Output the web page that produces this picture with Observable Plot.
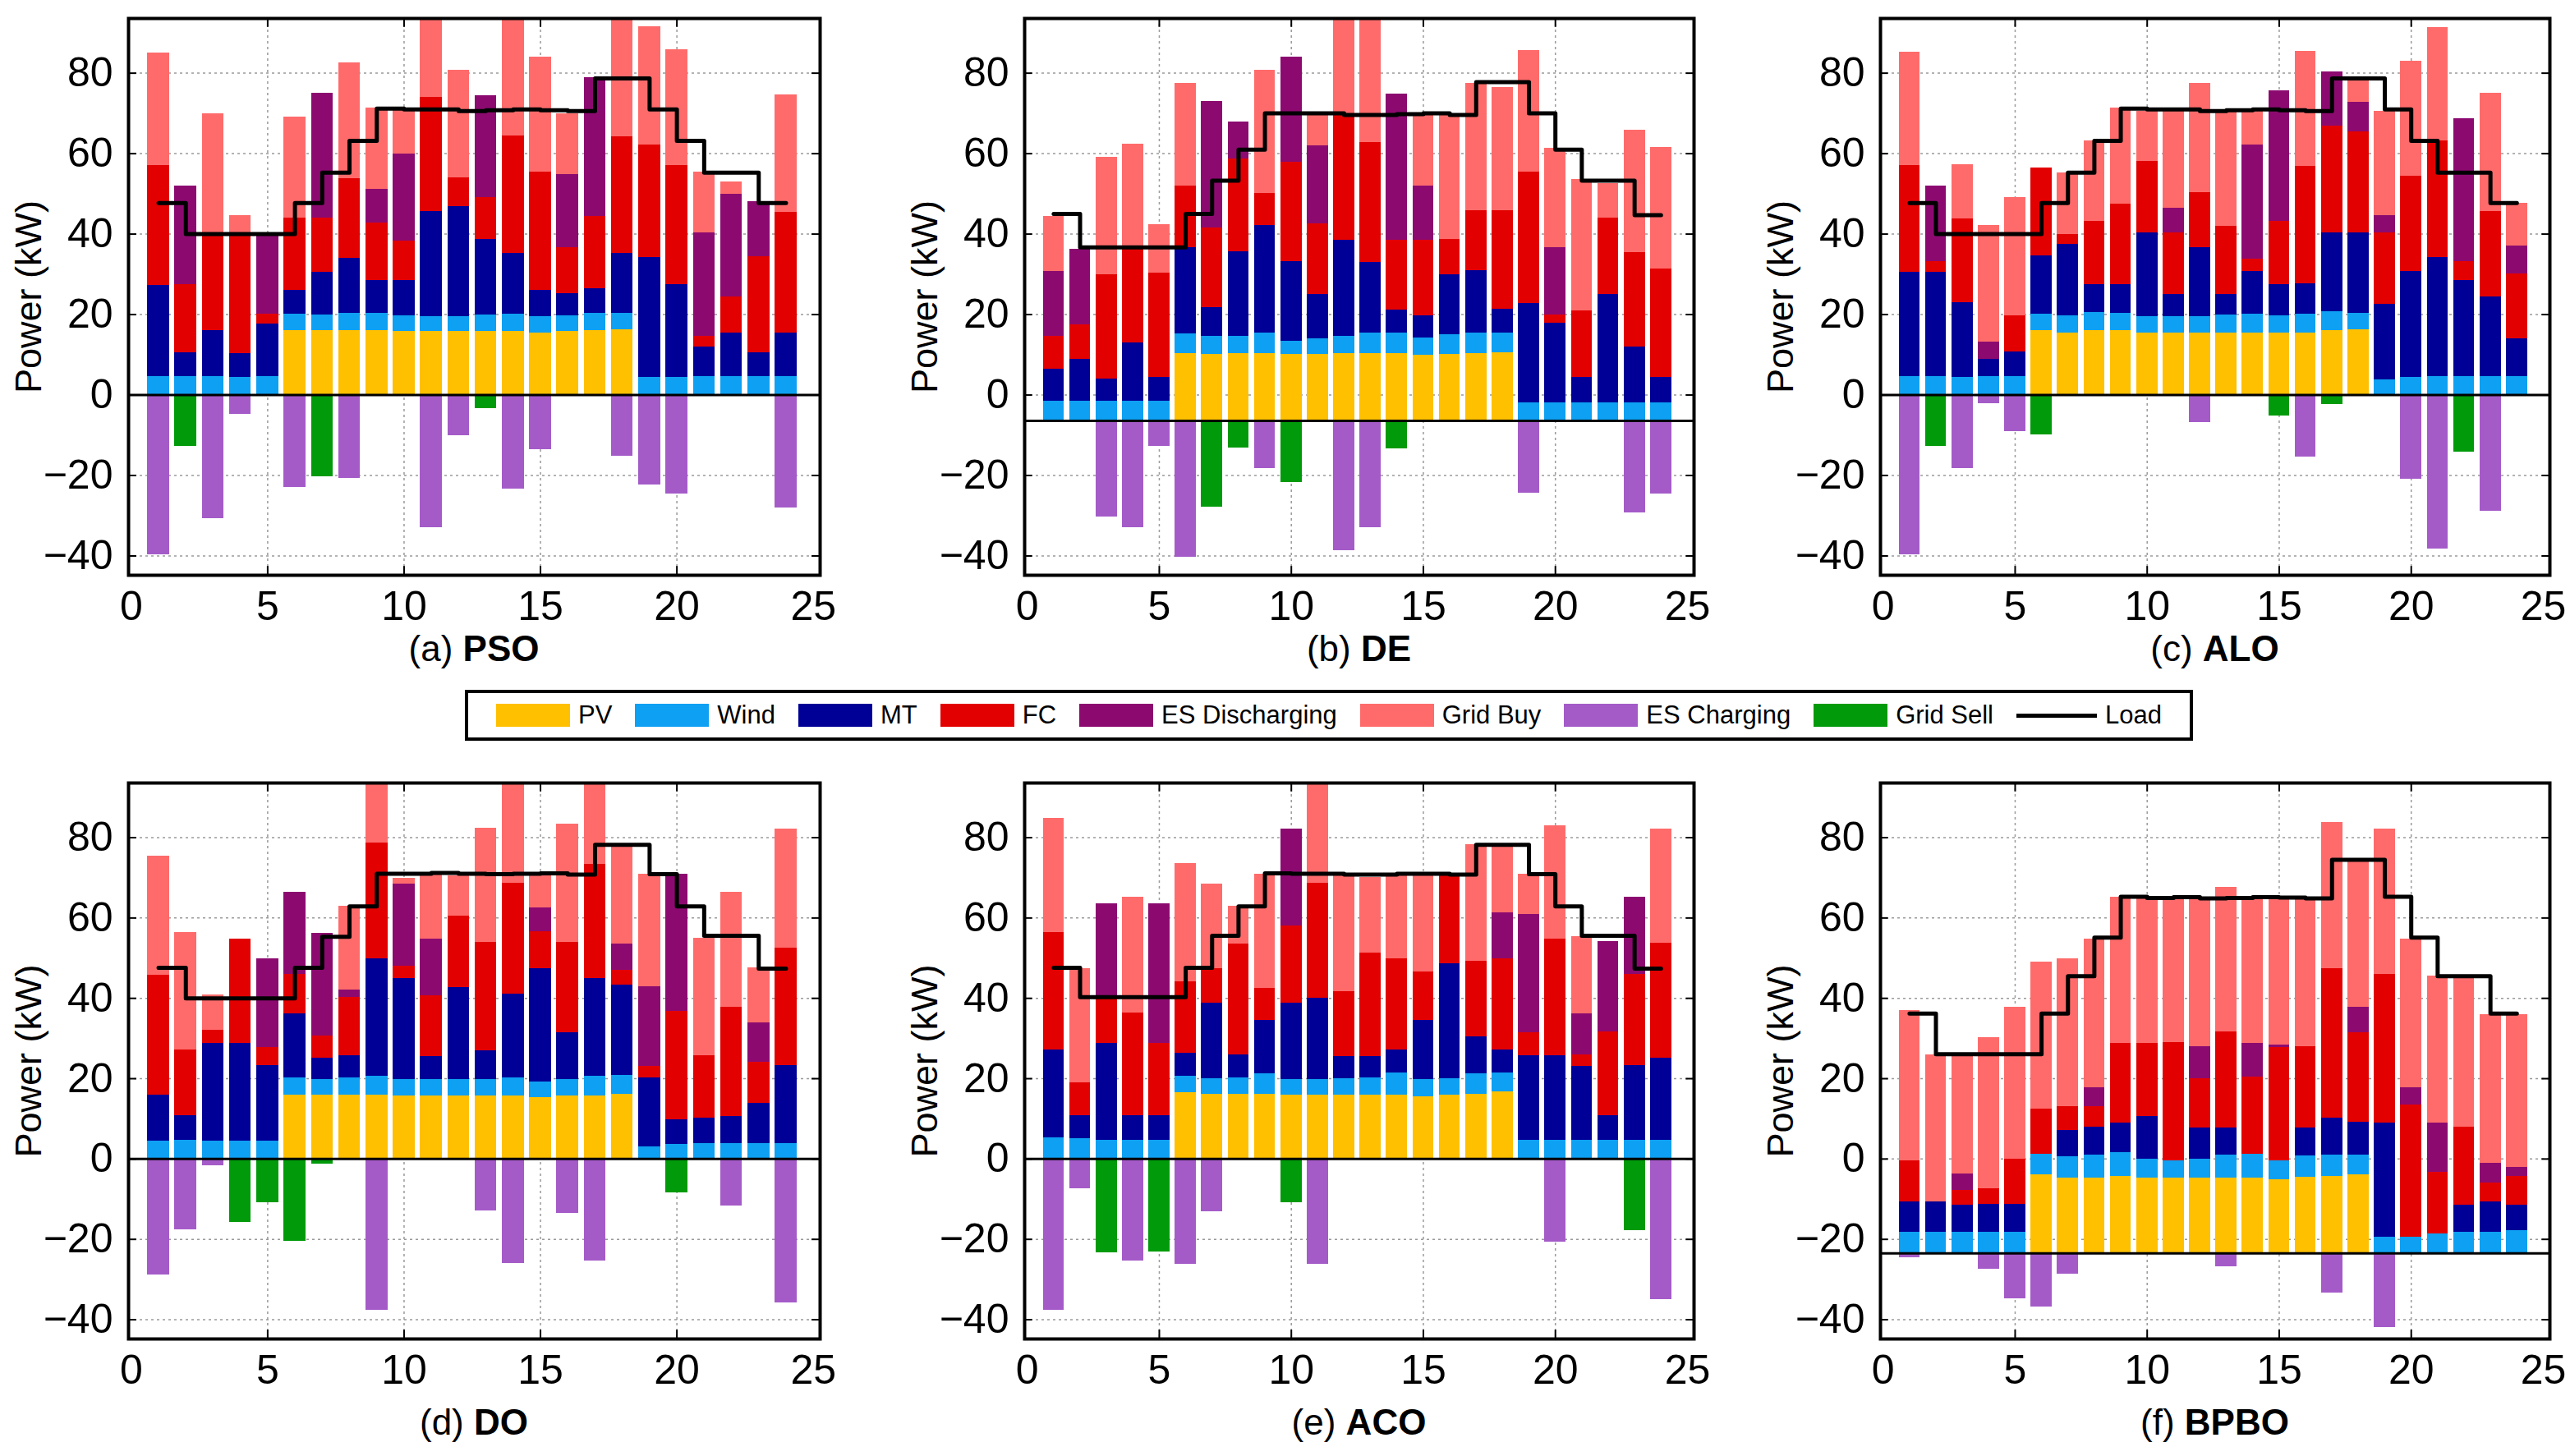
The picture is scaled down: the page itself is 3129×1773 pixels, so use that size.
<!DOCTYPE html>
<html><head><meta charset="utf-8">
<script src="https://cdn.jsdelivr.net/npm/d3@7"></script>
<script src="https://cdn.jsdelivr.net/npm/@observablehq/plot@0.6"></script>
<style>
body{margin:0;background:#fff;}
#page{position:relative;width:3129px;height:1773px;overflow:hidden;font-family:"Liberation Sans",Arial,sans-serif;color:#000;background:#fff;}
.panel{position:absolute;}
.xlab{position:absolute;width:600px;text-align:center;font-size:44px;line-height:50px;white-space:nowrap;}
#legend{position:absolute;left:566px;top:840px;width:2104px;height:62px;box-sizing:border-box;border:4px solid #000;display:flex;align-items:center;justify-content:center;gap:28px;font-size:31px;}
.item{display:flex;align-items:center;gap:10px;}
.sw{width:90px;height:28px;}
.ln{width:98px;height:5px;background:#000;}
</style></head><body><div id="page"></div>
<script>
// ---------- categories ----------
const hours = [1,2,3,4,5,6,7,8,9,10,11,12,13,14,15,16,17,18,19,20,21,22,23,24];
const seriesNames = ["PV","Wind","MT","FC","ES Discharging","Grid Buy","ES Charging","Grid Sell"];
const seriesColors = ["#FFC000","#0EA0F2","#000096","#E30000","#8C0A70","#FF6B6B","#A45BC8","#009A0A"];
const yTicks = [-40,-20,0,20,40,60,80];
const xTicks = [0,5,10,15,20,25];

// ---------- (a) PSO ----------
const PSO_pv   = [0,0,0,0,0,16,16,16,16,15.8,15.8,15.8,15.8,15.8,15.5,15.8,16,16.3,0,0,0,0,0,0];
const PSO_wind = [4.5,4.7,4.5,4.3,4.5,4.1,4.0,4.3,4.3,4.0,3.7,3.7,4.2,4.3,4.0,4.0,4.3,4.0,4.3,4.3,4.5,4.5,4.5,4.5];
const PSO_mt   = [22.8,5.9,11.5,6.1,13.2,5.9,10.5,13.6,8.2,8.6,26.1,27.4,18.6,15.2,6.5,5.5,6.1,15.0,29.8,23.2,7.4,11.0,6.1,11.0];
const PSO_fc   = [29.7,16.8,23.5,29.3,2.5,18,13.5,19.9,14.2,9.9,28.5,7.2,10.5,29.1,29.4,11.4,18.1,28.9,28,29.5,2.6,8.8,23.8,29.9];
const PSO_esd  = [0,24.6,0,0,19.5,0,31,0,8.4,21.7,0,0,25.4,0,0,18.1,34.4,0,0,0,25.8,25.7,13.6,0];
const PSO_buy  = [28,0,30.5,5,0,25.2,0,28.8,20.3,11,22,26.6,0,30,28.7,15.1,0,30,29.5,28.8,15.1,3,0,29.3];
const PSO_chg  = [39.6,0,30.8,4.8,0,22.9,0,20.8,0,0,33,10,0,23.3,13.5,0,0,15.1,22.4,24.5,0,0,0,28.1];
const PSO_sell = [0,12.8,0,0,0,0,20.4,0,0,0,0,0,3.4,0,0,0,0,0,0,0,0,0,0,0];
const PSO_load = [47.7,40,40,40,40,47.7,55.3,63.2,71.2,71,71,70.6,70.8,71,70.8,70.6,78.7,78.7,71,63.2,55.3,55.3,47.7,47.7];

// ---------- (b) DE ----------
const DE_pv   = [0,0,0,0,0,16.8,16.6,16.8,16.8,16.5,16.5,16.7,16.7,16.7,16.3,16.5,16.7,17,0,0,0,0,0,0];
const DE_wind = [4.8,4.8,4.8,4.8,4.8,4.8,4.5,4.3,5,3.3,3.9,4.2,5.1,5.1,4.3,4.9,5.1,4.8,4.4,4.4,4.4,4.4,4.4,4.4];
const DE_mt   = [8,10.4,5.6,14.5,6,21.5,7.1,21,26.8,19.7,11.1,23.9,17.6,5.7,5.6,14.9,15.5,6,24.7,19.9,6.4,27.1,14,6.4];
const DE_fc   = [8.3,8.6,25.9,23.4,26,15.3,19.8,23,8,24.7,17.5,31.1,29.8,17.3,18.6,8.8,15,24.5,32.7,2.1,16.5,18.9,23.5,27];
const DE_esd  = [16,18.9,0,0,0,0,31.4,9.2,0,26.3,19.3,0,0,36.5,13.6,0,0,0,0,16.7,0,0,0,0];
const DE_buy  = [13.8,0,29.3,26,12,25.5,0,0,30.5,0,7.6,26,31,0,17.5,30.8,31.6,30.6,30.3,24.6,32.7,8.5,30.3,30.2];
const DE_chg  = [0,0,24,26.6,6.4,34,0,0,11.9,0,0,32.2,26.6,0,0,0,0,0,18,0,0,0,22.9,18.1];
const DE_sell = [0,0,0,0,0,0,21.5,6.8,0,15.4,0,0,0,6.9,0,0,0,0,0,0,0,0,0,0];
const DE_load = [45,36.7,36.7,36.7,36.7,45,53.3,61,70,70,70,69.6,69.6,69.8,70,69.6,77.8,77.8,70,61,53.3,53.3,44.7,44.7];

// ---------- (c) ALO ----------
const ALO_pv   = [0,0,0,0,0,16,15.5,16,16,15.5,15.5,15.5,15.5,15.5,15.5,15.5,16,16.3,0,0,0,0,0,0];
const ALO_wind = [4.6,4.6,4.3,4.6,4.6,4.2,4.3,4.6,4.3,4,4,4,4.5,4.7,4.3,4.7,4.8,4,3.8,4.3,4.6,4.6,4.6,4.6];
const ALO_mt   = [25.9,25.9,18.6,4.2,6.2,14.4,17.6,6.9,7.2,20.8,5.6,17.2,5.1,10.5,7.7,7.5,19.5,20,18.7,26.4,29.5,23.9,19.7,9.4];
const ALO_fc   = [26.5,2.6,20.9,0,9,21.9,2.5,15.6,19.9,17.8,15.2,13.7,16.8,3,15.7,29.1,26.6,25.2,17.8,23.7,29.1,4.6,21.3,16.1];
const ALO_esd  = [0,18.9,0,4.3,0,0,0,0,0,0,6.1,0,0,28.4,32.5,0,13.5,7.2,4.4,0,0,35.6,0,7];
const ALO_buy  = [28.2,0,13.5,29.1,29.2,0,15.3,20.1,24,12.5,24.7,27.1,28.7,8.5,0,28.7,0,5.9,25.9,28.5,28.2,0,29.5,10.6];
const ALO_chg  = [39.6,0,18.3,2.1,9.1,0,0,0,0,0,0,6.8,0,0,0,15.4,0,0,0,21,38.2,0,28.8,0];
const ALO_sell = [0,12.8,0,0,0,9.8,0,0,0,0,0,0,0,0,5.3,0,2.3,0,0,0,0,14.1,0,0];
const ALO_load = [47.7,40,40,40,40,47.7,55.3,63.2,71.2,71,71,70.6,70.8,71,70.8,70.6,78.7,78.7,71,63.2,55.3,55.3,47.7,47.7];

// ---------- (d) DO ----------
const DO_pv   = [0,0,0,0,0,16,16,16,16,15.8,15.8,15.8,15.8,15.8,15.3,15.8,15.8,16.2,0,0,0,0,0,0];
const DO_wind = [4.5,4.7,4.5,4.5,4.5,4.3,3.8,4.3,4.6,4,4,4,4,4.5,3.8,4,4.8,4.7,3.1,3.6,3.9,3.9,3.9,3.9];
const DO_mt   = [11.5,6.2,24.3,24.3,18.8,15.8,5.4,5.5,29.3,25.2,5.7,22.9,7.1,20.8,28.3,11.7,24.3,22.4,17.1,6.2,6.3,6.6,9.9,19.4];
const DO_fc   = [29.7,16.2,3.3,26,4.4,9.9,5.5,14.5,28.7,3.1,15.1,17.8,27,27.6,9.3,22.4,28.5,3.7,2.8,26.9,15.6,27.2,10.3,29.3];
const DO_esd  = [0,0,0,0,22.2,20.5,25.4,1.8,0,20.4,14.1,0,0,0,5.8,0,0,6.6,20,34.2,0,0,9.8,0];
const DO_buy  = [29.8,29.2,8.7,0,0,0,0,20.8,17,1.3,16.2,10.1,28.5,25,7.9,29.4,20,24.1,27.9,0,29.2,28.8,13.7,29.5];
const DO_chg  = [28.9,17.7,1.6,0,0,0,0,0,37.6,0,0,0,13,25.9,0,13.6,25.4,0,0,0,0,11.7,0,35.8];
const DO_sell = [0,0,0,15.8,10.9,20.5,1.3,0,0,0,0,0,0,0,0,0,0,0,0,8.4,0,0,0,0];
const DO_load = [47.6,40,40,40,40,47.6,55.3,62.9,71,71,71.2,71,70.9,71,71.1,70.8,78.2,78.2,70.9,62.9,55.6,55.6,47.4,47.4];

// ---------- (e) ACO ----------
const ACO_pv   = [0,0,0,0,0,16.5,16.2,16.2,16.2,15.9,15.9,15.9,15.9,15.9,15.6,15.9,16.2,16.7,0,0,0,0,0,0];
const ACO_wind = [5.3,5,4.7,4.7,4.7,4.1,3.8,4.1,5.1,3.9,3.9,4.1,4.4,5.5,4.1,4.1,5.1,4.7,4.7,4.7,4.7,4.7,4.7,4.7];
const ACO_mt   = [21.8,5.9,24.1,6.2,6.2,5.7,18.8,5.7,13.3,19.1,20.2,5.5,5.2,5.7,14.9,28.7,9.1,5.7,21.1,21.1,18.3,6.2,18.6,20.5];
const ACO_fc   = [29.2,8,11.5,25.5,17.9,17.8,8.6,27.6,7.9,19.2,28.7,16.2,25.7,22.7,12,21.7,18.8,22.8,5.7,28.9,3,20.8,22.7,28.5];
const ACO_esd  = [0,0,23.2,0,34.7,0,0,0,0,24,0,0,0,0,0,0,0,11.4,29.3,0,10.1,22.5,19.1,0];
const ACO_buy  = [28.6,28.5,0,28.8,0,29.5,21.1,9.3,28.4,0,25,28.7,18.9,20.6,23.8,0,29,16.4,10.1,28.2,19.2,0,0,28.5];
const ACO_chg  = [37.6,7.3,0,25.4,0,26.1,13.1,0,0,0,26.1,0,0,0,0,0,0,0,0,20.7,0,0,0,35];
const ACO_sell = [0,0,23.4,0,23.2,0,0,0,0,10.8,0,0,0,0,0,0,0,0,0,0,0,0,17.9,0];
const ACO_load = [47.6,40.3,40.3,40.3,40.3,47.6,55.6,62.9,71.1,71,71,70.8,70.8,71,71,70.8,78.2,78.2,70.9,62.9,55.6,55.6,47.4,47.4];

// ---------- (f) BPBO ----------
const BPBO_pv   = [0,0,0,0,0,19.5,18.7,18.7,19.2,18.7,18.7,18.7,18.7,18.7,18.4,18.9,19.2,19.5,0,0,0,0,0,0];
const BPBO_wind = [5.2,5.2,5.2,5.2,5.2,5.2,5.3,5.7,5.9,4.8,4.4,4.8,5.7,5.9,4.7,5.3,5.2,4.9,4.1,4.1,4.9,5.2,5.2,5.6];
const BPBO_mt   = [7.7,7.7,6.8,7.1,7.1,0,6.7,7.1,7.3,10.5,0,7.8,6.9,0,0,7.1,9.3,8.2,28.3,0,0,6.9,7.7,6.4];
const BPBO_fc   = [10.2,0,3.8,3.9,11.2,11.2,5.9,5.1,19.9,18.3,29.4,12.2,23.9,19.3,28.1,20.1,37.2,22.4,37.1,32.9,15.3,19.4,4.6,7.1];
const BPBO_esd  = [0,0,3.9,0,0,0,0,4.7,0,0,0,7.9,0,8.4,0.7,0,0,6.2,0,4.3,12.2,0,5,2.3];
const BPBO_buy  = [37.4,36.6,29.8,37.5,37.7,36.6,36.8,36.9,36.4,36.4,36.2,37.3,35.9,36.4,36.8,37.3,36.4,36.7,36.1,37,36.6,37,36.9,38];
const BPBO_chg  = [1.1,0,0,4,11.3,13.4,5.1,0,0,0,0,0,3.3,0,0,0,9.9,0,18.5,0,0,0,0,0];
const BPBO_sell = [0,0,0,0,0,0,0,0,0,0,0,0,0,0,0,0,0,0,0,0,0,0,0,0];
const BPBO_load = [36.2,26.1,26.1,26.1,26.1,36.2,45.5,55.1,65.3,65,65.2,64.9,65,65.2,65.1,64.9,74.5,74.5,65.3,55.1,45.5,45.5,36.2,36.2];

// stacking baselines of each panel (kW)
const baselines = {PSO:0, DE:-6.4, ALO:0, DO:0, ACO:0, BPBO:-23.5};

const panels = [
  {tag:"(a)", name:"PSO", pos:[PSO_pv,PSO_wind,PSO_mt,PSO_fc,PSO_esd,PSO_buy], neg:[PSO_chg,PSO_sell], load:PSO_load, col:0, row:0},
  {tag:"(b)", name:"DE", pos:[DE_pv,DE_wind,DE_mt,DE_fc,DE_esd,DE_buy], neg:[DE_chg,DE_sell], load:DE_load, col:1, row:0},
  {tag:"(c)", name:"ALO", pos:[ALO_pv,ALO_wind,ALO_mt,ALO_fc,ALO_esd,ALO_buy], neg:[ALO_chg,ALO_sell], load:ALO_load, col:2, row:0},
  {tag:"(d)", name:"DO", pos:[DO_pv,DO_wind,DO_mt,DO_fc,DO_esd,DO_buy], neg:[DO_chg,DO_sell], load:DO_load, col:0, row:1},
  {tag:"(e)", name:"ACO", pos:[ACO_pv,ACO_wind,ACO_mt,ACO_fc,ACO_esd,ACO_buy], neg:[ACO_chg,ACO_sell], load:ACO_load, col:1, row:1},
  {tag:"(f)", name:"BPBO", pos:[BPBO_pv,BPBO_wind,BPBO_mt,BPBO_fc,BPBO_esd,BPBO_buy], neg:[BPBO_chg,BPBO_sell], load:BPBO_load, col:2, row:1}
];

// layout (px)
const cols = [{l:156,r:998},{l:1247,r:2062},{l:2289,r:3104}];
const rows = [{t:22,b:700,lab:790},{t:953,b:1630,lab:1732}];
const M = {left:160, right:12, top:10, bottom:80};
const xDom = [-0.1, 25.25];
const yDom = [-44.8, 93.6];

const page = document.getElementById("page");

function stackRows(p){
  const base = baselines[p.name];
  const out = [];
  hours.forEach((h,i)=>{
    let top = base;
    p.pos.forEach((arr,k)=>{ const v = arr[i]; if (v>0){ out.push({hour:h, series:seriesNames[k], y1:top, y2:top+v}); top += v; } });
    let bot = base;
    p.neg.forEach((arr,k)=>{ const v = arr[i]; if (v>0){ out.push({hour:h, series:seriesNames[6+k], y1:bot-v, y2:bot}); bot -= v; } });
  });
  return out;
}

panels.forEach(p=>{
  const c = cols[p.col], r = rows[p.row];
  const base = baselines[p.name];
  const bars = stackRows(p);
  const loadData = hours.map((h,i)=>({hour:h, load:p.load[i]}));
  const chart = Plot.plot({
    width: (c.r - c.l) + M.left + M.right,
    height: (r.b - r.t) + M.top + M.bottom,
    marginLeft: M.left, marginRight: M.right, marginTop: M.top, marginBottom: M.bottom,
    style: {fontFamily: "Liberation Sans, Arial, sans-serif", fontSize: "50px", color: "#000", background: "transparent", overflow: "visible"},
    x: {domain: xDom, ticks: xTicks},
    y: {domain: yDom, ticks: yTicks},
    color: {domain: seriesNames, range: seriesColors},
    marks: [
      Plot.ruleX([5,10,15,20], {stroke: "#9a9a9a", strokeWidth: 1.5, strokeDasharray: "3,4"}),
      Plot.ruleY(yTicks.filter(t => t !== base), {stroke: "#9a9a9a", strokeWidth: 1.5, strokeDasharray: "3,4"}),
      Plot.rect(bars, {x1: d => d.hour - 0.4, x2: d => d.hour + 0.4, y1: "y1", y2: "y2", fill: "series", clip: true, shapeRendering: "crispEdges"}),
      Plot.ruleY([base], {stroke: "#000", strokeWidth: 3}),
      Plot.line(loadData, {x: "hour", y: "load", curve: "step-after", stroke: "#000", strokeWidth: 5}),
      Plot.ruleY(yTicks, {x1: xDom[0], x2: xDom[0] + 0.3, stroke: "#000", strokeWidth: 2}),
      Plot.ruleY(yTicks, {x1: xDom[1] - 0.3, x2: xDom[1], stroke: "#000", strokeWidth: 2}),
      Plot.ruleX([5,10,15,20], {y1: yDom[0], y2: yDom[0] + 2.2, stroke: "#000", strokeWidth: 2}),
      Plot.ruleX([5,10,15,20], {y1: yDom[1] - 2.2, y2: yDom[1], stroke: "#000", strokeWidth: 2}),
      Plot.frame({stroke: "#000", strokeWidth: 4}),
      Plot.axisX({ticks: xTicks, tickSize: 0, tickPadding: 19, label: null}),
      Plot.axisY({ticks: yTicks, tickSize: 0, tickPadding: 19, label: null}),
      Plot.text(["Power (kW)"], {frameAnchor: "left", textAnchor: "middle", rotate: -90, dx: -121, fontSize: 45, fill: "#000"})
    ]
  });
  chart.classList.add("panel");
  chart.style.left = (c.l - M.left) + "px";
  chart.style.top = (r.t - M.top) + "px";
  chart.style.position = "absolute";
  page.appendChild(chart);

  const lab = document.createElement("div");
  lab.className = "xlab";
  lab.style.left = ((c.l + c.r)/2 - 300) + "px";
  lab.style.top = (r.lab - 25) + "px";
  lab.innerHTML = p.tag + " <b>" + p.name + "</b>";
  page.appendChild(lab);
});

// legend
const legend = document.createElement("div");
legend.id = "legend";
seriesNames.forEach((s,i)=>{
  const it = document.createElement("div"); it.className = "item";
  const sw = document.createElement("div"); sw.className = "sw"; sw.style.background = seriesColors[i];
  const tx = document.createElement("span"); tx.textContent = s;
  it.appendChild(sw); it.appendChild(tx); legend.appendChild(it);
});
{
  const it = document.createElement("div"); it.className = "item";
  const ln = document.createElement("div"); ln.className = "ln";
  const tx = document.createElement("span"); tx.textContent = "Load";
  it.appendChild(ln); it.appendChild(tx); legend.appendChild(it);
}
page.appendChild(legend);
</script>
</body></html>
